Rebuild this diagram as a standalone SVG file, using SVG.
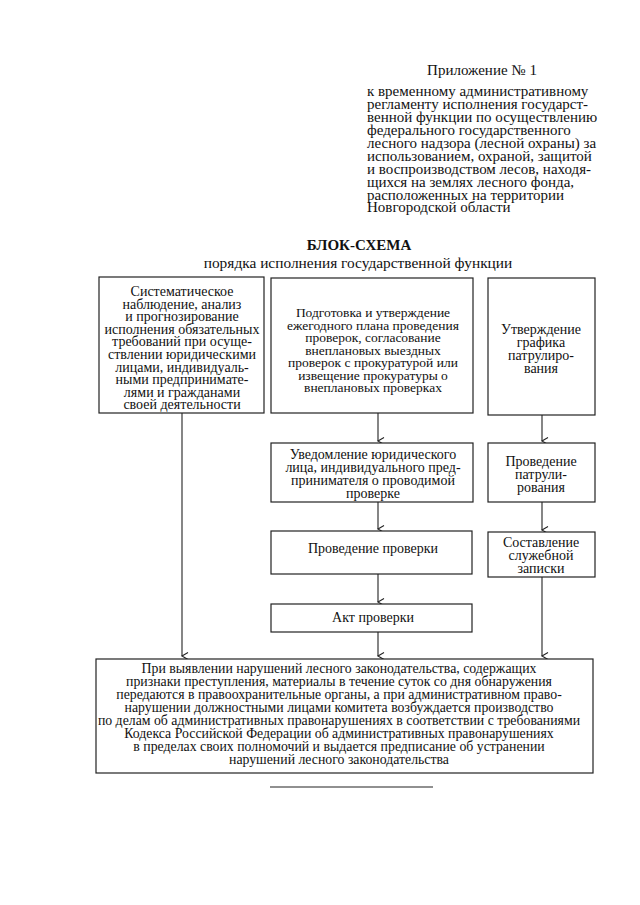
<svg xmlns="http://www.w3.org/2000/svg" width="640" height="905" viewBox="0 0 640 905">
<defs>
<style>
text{font-family:"Liberation Serif","Times New Roman",serif;font-size:13.5px;fill:#111}
.c{text-anchor:middle}
.h{font-size:15px}
.s{font-size:15.4px}
.t{font-weight:bold;font-size:15px}
.k{font-size:14px}
.m{font-size:13.8px}
.b{fill:#fff;stroke:#222;stroke-width:1.2}
.l{fill:none;stroke:#222;stroke-width:1.1}
</style>
<marker id="a" markerUnits="userSpaceOnUse" markerWidth="10" markerHeight="10" refX="4" refY="7" orient="auto-start-reverse" viewBox="0 0 10 10">
<path d="M0.5,1 L4,7 L7.5,1" fill="none" stroke="#222" stroke-width="1.1"/>
</marker>
</defs>
<rect width="640" height="905" fill="#fff"/>
<g id="header" class="h">
<text x="482" y="75" class="c h">Приложение № 1</text>
<text x="367" y="96" class="h">к временному административному</text>
<text x="367" y="109" class="h">регламенту исполнения государст-</text>
<text x="367" y="122" class="h">венной функции по осуществлению</text>
<text x="367" y="135" class="h">федерального государственного</text>
<text x="367" y="148" class="h">лесного надзора (лесной охраны) за</text>
<text x="367" y="161" class="h">использованием, охраной, защитой</text>
<text x="367" y="174" class="h">и воспроизводством лесов, находя-</text>
<text x="367" y="187" class="h">щихся на землях лесного фонда,</text>
<text x="367" y="200" class="h">расположенных на территории</text>
<text x="367" y="212" class="h">Новгородской области</text>
</g>
<g id="title">
<text x="359" y="250" class="c t">БЛОК-СХЕМА</text>
<text x="358" y="268" class="c s">порядка исполнения государственной функции</text>
</g>
<g id="connectors">
<line class="l" x1="182" y1="413" x2="182" y2="656" marker-end="url(#a)"/>
<line class="l" x1="378" y1="413" x2="378" y2="441" marker-end="url(#a)"/>
<line class="l" x1="542" y1="415" x2="542" y2="441" marker-end="url(#a)"/>
<line class="l" x1="378" y1="502" x2="378" y2="529" marker-end="url(#a)"/>
<line class="l" x1="542" y1="502" x2="542" y2="530" marker-end="url(#a)"/>
<line class="l" x1="378" y1="574" x2="378" y2="602" marker-end="url(#a)"/>
<line class="l" x1="378" y1="632" x2="378" y2="656" marker-end="url(#a)"/>
<line class="l" x1="542" y1="577" x2="542" y2="656" marker-end="url(#a)"/>
</g>
<g id="n1">
<rect class="b" x="99" y="277" width="165" height="136"/>
<text class="c k" x="182" y="296">Систематическое</text>
<text class="c k" x="182" y="309">наблюдение, анализ</text>
<text class="c k" x="182" y="321">и прогнозирование</text>
<text class="c k" x="182" y="334">исполнения обязательных</text>
<text class="c k" x="182" y="346">требований при осуще-</text>
<text class="c k" x="182" y="359">ствлении юридическими</text>
<text class="c k" x="182" y="372">лицами, индивидуаль-</text>
<text class="c k" x="182" y="384">ными предпринимате-</text>
<text class="c k" x="182" y="397">лями и гражданами</text>
<text class="c k" x="182" y="409">своей деятельности</text>
</g>
<g id="n2">
<rect class="b" x="271" y="278" width="202" height="135"/>
<text class="c" x="373" y="317">Подготовка и утверждение</text>
<text class="c" x="373" y="330">ежегодного плана проведения</text>
<text class="c" x="373" y="342">проверок, согласование</text>
<text class="c" x="373" y="355">внеплановых выездных</text>
<text class="c" x="373" y="367">проверок с прокуратурой или</text>
<text class="c" x="373" y="380">извещение прокуратуры о</text>
<text class="c" x="373" y="392">внеплановых проверках</text>
</g>
<g id="n3">
<rect class="b" x="488" y="278" width="107" height="137"/>
<text class="c k" x="541" y="334">Утверждение</text>
<text class="c k" x="541" y="347">графика</text>
<text class="c k" x="541" y="360">патрулиро-</text>
<text class="c k" x="541" y="373">вания</text>
</g>
<g id="n4">
<rect class="b" x="271" y="443" width="202" height="59"/>
<text class="c k" x="373" y="459">Уведомление юридического</text>
<text class="c k" x="373" y="472">лица, индивидуального пред-</text>
<text class="c k" x="373" y="485">принимателя о проводимой</text>
<text class="c k" x="373" y="498">проверке</text>
</g>
<g id="n5">
<rect class="b" x="488" y="443" width="107" height="59"/>
<text class="c k" x="541" y="466">Проведение</text>
<text class="c k" x="541" y="479">патрули-</text>
<text class="c k" x="541" y="492">рования</text>
</g>
<g id="n6">
<rect class="b" x="271" y="531" width="201" height="43"/>
<text class="c k" x="373" y="553">Проведение проверки</text>
</g>
<g id="n7">
<rect class="b" x="488" y="532" width="107" height="45"/>
<text class="c k" x="541" y="547">Составление</text>
<text class="c k" x="541" y="560">служебной</text>
<text class="c k" x="541" y="573">записки</text>
</g>
<g id="n8">
<rect class="b" x="271" y="604" width="201" height="28"/>
<text class="c k" x="373" y="622">Акт проверки</text>
</g>
<g id="n9">
<rect class="b" x="96" y="659" width="497" height="114"/>
<text class="c m" x="339" y="673">При выявлении нарушений лесного законодательства, содержащих</text>
<text class="c m" x="339" y="686">признаки преступления, материалы в течение суток со дня обнаружения</text>
<text class="c m" x="339" y="699">передаются в правоохранительные органы, а при административном право-</text>
<text class="c m" x="339" y="712">нарушении должностными лицами комитета возбуждается производство</text>
<text class="c m" x="339" y="725">по делам об административных правонарушениях в соответствии с требованиями</text>
<text class="c m" x="339" y="738">Кодекса Российской Федерации об административных правонарушениях</text>
<text class="c m" x="339" y="751">в пределах своих полномочий и выдается предписание об устранении</text>
<text class="c m" x="339" y="764">нарушений лесного законодательства</text>
</g>
<line class="l" x1="270" y1="787" x2="433" y2="787"/>
</svg>
